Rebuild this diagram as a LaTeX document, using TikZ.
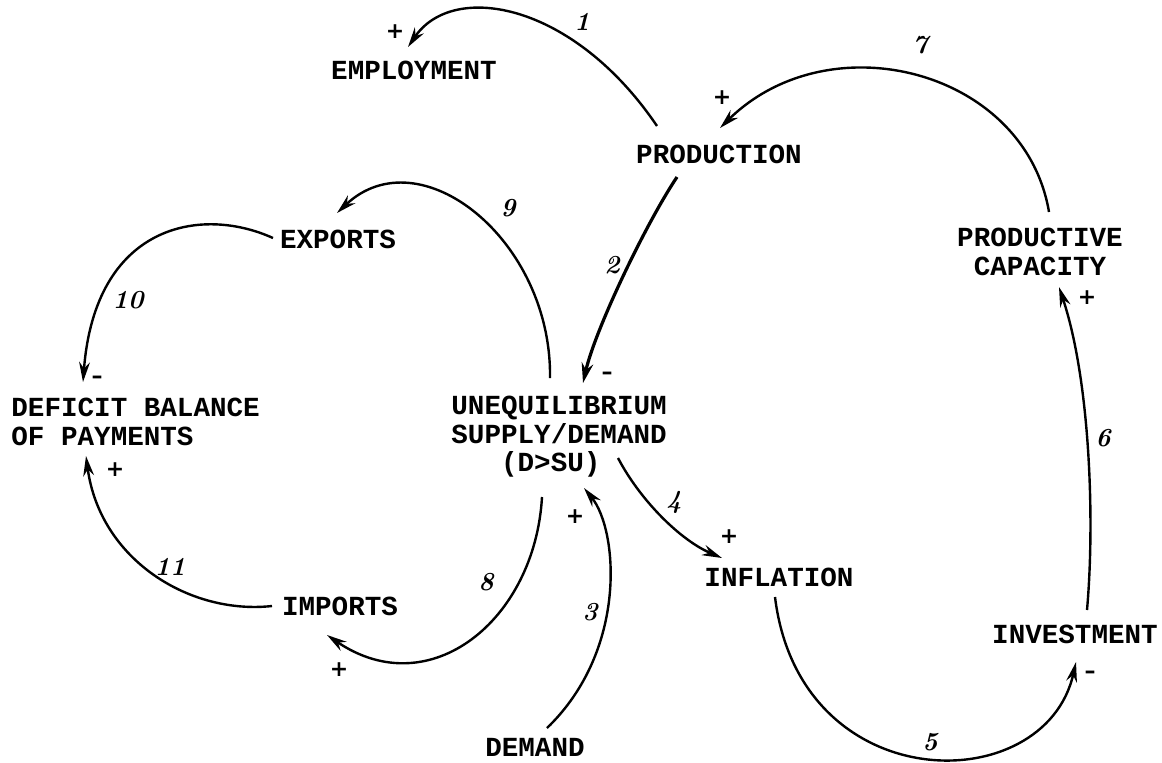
\documentclass[tikz,border=0pt]{standalone}
\usepackage{fontspec}
\usetikzlibrary{arrows.meta}
\newfontfamily\twfont{Liberation Mono}
\newfontfamily\signfont{DejaVu Sans}
\begin{document}
\begin{tikzpicture}[x=0.5pt,y=-0.5pt,
  lbl/.style={font=\twfont\bfseries\fontsize{13.8}{14.3}\selectfont, inner sep=0pt},
  num/.style={font=\fontsize{13}{13}\selectfont\bfseries\itshape, inner sep=0pt},
  sgn/.style={font=\signfont\bfseries\fontsize{11}{11}\selectfont, inner sep=0pt},
  link/.style={line width=1.2pt, -{Stealth[length=10pt,width=5.4pt]}},
  thick link/.style={line width=1.6pt, -{Stealth[length=10pt,width=5.8pt]}}]
\useasboundingbox[fill=white] (0,0) rectangle (1162,762);

% variables
\node[lbl] (emp) at (414,70) {EMPLOYMENT};
\node[lbl] (prod) at (719,154) {PRODUCTION};
\node[lbl] (exp) at (338,239) {EXPORTS};
\node[lbl, anchor=west, align=left] (def) at (11,422) {DEFICIT BALANCE\\OF PAYMENTS};
\node[lbl, anchor=west, align=left] (uneq) at (451,437) {UNEQUILIBRIUM\\SUPPLY/DEMAND\\\hphantom{UNE}(D>SU)};
\node[lbl] (imp) at (340,606) {IMPORTS};
\node[lbl] (dem) at (535,747) {DEMAND};
\node[lbl] (infl) at (779,577) {INFLATION};
\node[lbl] (inv) at (1075,634) {INVESTMENT};
\node[lbl, align=center] (pcap) at (1040,252) {PRODUCTIVE\\CAPACITY};

% links
\draw[link] ([shift={(-62,-28)}]prod.center) .. controls (573,2) and (453,-19) .. ([shift={(-6,-23)}]emp.center);
\draw[thick link] ([shift={(-42,23)}]prod.center) .. controls (645,225) and (595,330) .. ([shift={(132,-54)}]uneq.west);
\draw[link] ([shift={(99,-59)}]uneq.west) .. controls (552,240) and (420,135) .. ([shift={(-1,-26)}]exp.center);
\draw[link] ([shift={(-65,-1)}]exp.center) .. controls (200,205) and (95,225) .. ([shift={(72,-40)}]def.west);
\draw[link] ([shift={(-68,0)}]imp.center) .. controls (190,615) and (100,560) .. ([shift={(75,34)}]def.west);
\draw[link] ([shift={(91,60)}]uneq.west) .. controls (535,620) and (430,705) .. ([shift={(-13,29)}]imp.center);
\draw[link] ([shift={(12,-19)}]dem.center) .. controls (628,650) and (618,530) .. ([shift={(133,51)}]uneq.west);
\draw[link] ([shift={(167,21)}]uneq.west) .. controls (640,500) and (680,540) .. ([shift={(-57,-19)}]infl.center);
\draw[link] ([shift={(-4,20)}]infl.center) .. controls (800,800) and (1045,800) .. ([shift={(1,28)}]inv.center);
\draw[link] ([shift={(12,-24)}]inv.center) .. controls (1095,520) and (1090,380) .. ([shift={(19,35)}]pcap.center);
\draw[link] ([shift={(9,-40)}]pcap.center) .. controls (1025,70) and (830,20) .. ([shift={(1,-26)}]prod.center);

% link numbers
\node[num] (n1) at (582,22) {1};
\node[num] (n2) at (612,265) {2};
\node[num] (n3) at (590,612) {3};
\node[num] (n4) at (674,502) {4};
\node[num] (n5) at (930,742) {5};
\node[num] (n6) at (1103,438) {6};
\node[num] (n7) at (920,45) {7};
\node[num] (n8) at (486,582) {8};
\node[num] (n9) at (508,208) {9};
\node[num] (n10) at (128,300) {10};
\node[num] (n11) at (170,567) {11};

% polarity signs
\node[sgn] (s1) at (395,32) {+};
\node[sgn] (s2) at (607,376) {\textendash};
\node[sgn] (s3) at (575,517) {+};
\node[sgn] (s4) at (729,537) {+};
\node[sgn] (s5) at (1090,675) {\textendash};
\node[sgn] (s6) at (1087,298) {+};
\node[sgn] (s7) at (722,98) {+};
\node[sgn] (s8) at (339,670) {+};
\node[sgn] (s10) at (97,380) {\textendash};
\node[sgn] (s11) at (115,470) {+};
\end{tikzpicture}
\end{document}
